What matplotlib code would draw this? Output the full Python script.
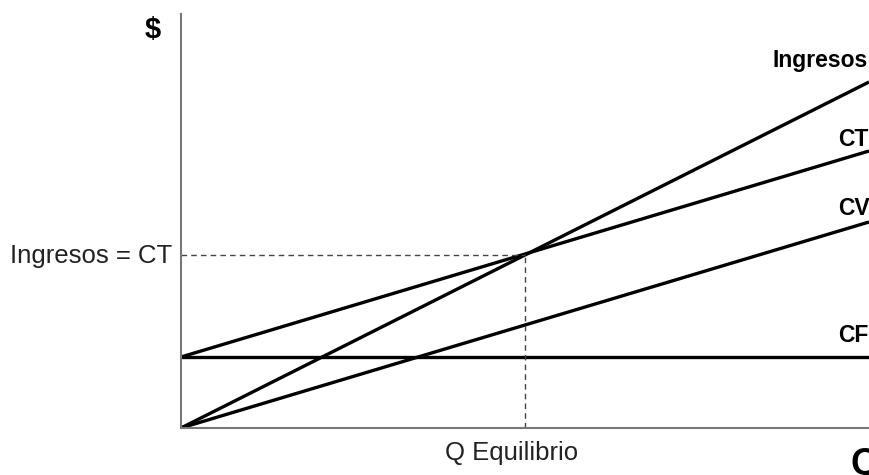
import matplotlib.pyplot as plt
import numpy as np

plt.rcParams['font.family'] = ['Liberation Sans', 'DejaVu Sans']

# cantidades y costos (unidades arbitrarias)
q = [0, 10]
ingresos = [0, 346]
ct = [71, 277]
cv = [0, 206]
cf = [71, 71]
q_eq = 5
y_eq = 173

fig = plt.figure(figsize=(8.69, 4.75), dpi=100)
ax = fig.add_axes([181 / 869, 47 / 475, 688 / 869, 414 / 475])
ax.set_xlim(0, 10)
ax.set_ylim(0, 414)

lw = 2.4
ax.plot(q, ingresos, color='black', lw=lw, solid_capstyle='butt')
ax.plot(q, ct, color='black', lw=lw, solid_capstyle='butt')
ax.plot(q, cv, color='black', lw=lw, solid_capstyle='butt')
ax.plot(q, cf, color='black', lw=lw, solid_capstyle='butt')

# lineas punteadas del punto de equilibrio
ax.plot([0, q_eq], [y_eq, y_eq], color='#444444', lw=1, ls=(0, (4, 3)))
ax.plot([q_eq, q_eq], [0, y_eq], color='#444444', lw=1, ls=(0, (4, 3)))

for s in ['top', 'right']:
    ax.spines[s].set_visible(False)
for s in ['left', 'bottom']:
    ax.spines[s].set_color('#777777')
    ax.spines[s].set_linewidth(1.5)
ax.set_xticks([])
ax.set_yticks([])

def fy(py):
    return 1 - py / 475

fig.text(153 / 869, fy(30), '$', fontsize=21, fontweight='bold', ha='center', va='center')
fig.text(172 / 869, fy(263), 'Ingresos = CT', fontsize=18.5, ha='right', va='baseline', color='#222222')
fig.text(512 / 869, fy(460), 'Q Equilibrio', fontsize=18.5, ha='center', va='baseline', color='#222222')
fig.text(850 / 869, fy(474), 'Q', fontsize=26, fontweight='bold', ha='left', va='baseline')

fig.text(773 / 869, fy(67), 'Ingresos', fontsize=16.5, fontweight='bold', ha='left', va='baseline')
fig.text(838 / 869, fy(146), 'CT', fontsize=16.5, fontweight='bold', ha='left', va='baseline')
fig.text(838 / 869, fy(215), 'CV', fontsize=16.5, fontweight='bold', ha='left', va='baseline')
fig.text(838 / 869, fy(342), 'CF', fontsize=16.5, fontweight='bold', ha='left', va='baseline')

fig.savefig('out.png', dpi=100)
